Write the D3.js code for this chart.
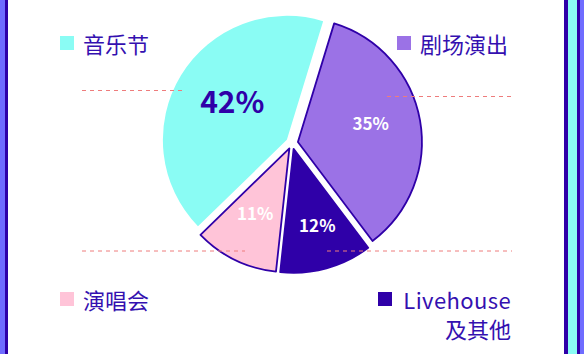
<!DOCTYPE html>
<html><head><meta charset="utf-8">
<script src="https://cdn.jsdelivr.net/npm/d3@7"></script>
<style>html,body{margin:0;padding:0;background:#fff;}svg{display:block;}</style>
</head><body>
<svg id="c" width="584" height="354"></svg>
<script>
const categories = ["剧场演出", "Livehouse及其他", "演唱会", "音乐节"];
const values = [35, 12, 11, 42];
const labels = ["35%", "12%", "11%", "42%"];
const colors = ["#9b72e6", "#2f00a8", "#ffc4d8", "#8afcf4"];
const legendOrder = ["音乐节", "剧场演出", "演唱会", "Livehouse及其他"];

const W = 584, H = 354;
const svg = d3.select("#c");
const ink = "#3410b0", dark = "#2f00a8";
const font = "'Noto Sans CJK SC', 'Noto Sans', sans-serif";

// borders
svg.append("rect").attr("x",0).attr("y",0).attr("width",5).attr("height",H).attr("fill","#6f6cff");
svg.append("rect").attr("x",5).attr("y",0).attr("width",3).attr("height",H).attr("fill",dark);
svg.append("rect").attr("x",564).attr("y",0).attr("width",4).attr("height",H).attr("fill",dark);
svg.append("rect").attr("x",568).attr("y",0).attr("width",9).attr("height",H).attr("fill","#8afcf4");
svg.append("rect").attr("x",577).attr("y",0).attr("width",3).attr("height",H).attr("fill",dark);
svg.append("rect").attr("x",580).attr("y",0).attr("width",4).attr("height",H).attr("fill","#6f6cff");

const cx = 292, cy = 143, R = 124, off = 6;
const start = 17 * Math.PI / 180;
const pie = d3.pie().sort(null).value(d => d).startAngle(start).endAngle(start + 2*Math.PI);
const arcs = pie(values);
const arc = d3.arc().innerRadius(0).outerRadius(R);
const labelArc = d3.arc().innerRadius(78).outerRadius(78);
const labelNudge = [[-4,-6],[3,1],[0,-6],[12,1]];

const g = svg.append("g").attr("transform", `translate(${cx},${cy})`);
const sl = g.selectAll("g.s").data(arcs).join("g").attr("class","s")
  .attr("transform", d => {
    const a = (d.startAngle + d.endAngle) / 2;
    return `translate(${Math.sin(a)*off},${-Math.cos(a)*off})`;
  });
sl.append("path").attr("d", arc)
  .attr("fill", (d,i) => colors[i])
  .attr("stroke", (d,i) => i === 3 ? "none" : dark)
  .attr("stroke-width", 1.8)
  .attr("stroke-linejoin","round");
sl.append("text")
  .attr("transform", (d,i) => {
    const c = labelArc.centroid(d);
    return `translate(${c[0]+labelNudge[i][0]},${c[1]+labelNudge[i][1]})`;
  })
  .attr("text-anchor","middle").attr("dominant-baseline","central")
  .attr("font-family", font).attr("font-weight","bold")
  .attr("font-size", (d,i) => i === 3 ? 30 : 17)
  .attr("fill", (d,i) => i === 3 ? dark : "#fff")
  .text((d,i) => labels[i]);

// dashed guide lines
const dashes = [[82,184,90.5],[387,512,96.5],[82,245,251],[327,512,251]];
svg.selectAll("line.d").data(dashes).join("line").attr("class","d")
  .attr("x1", d => d[0]).attr("x2", d => d[1]).attr("y1", d => d[2]).attr("y2", d => d[2])
  .attr("stroke","#ee7c7c").attr("stroke-width",1).attr("stroke-dasharray","4,4");

// legend
const legPos = [[60,43],[397,43],[60,299],[378,299]];
legendOrder.forEach((name, k) => {
  const i = categories.indexOf(name);
  const [x,y] = legPos[k];
  svg.append("rect").attr("x",x).attr("y",y-7).attr("width",14).attr("height",14).attr("fill",colors[i]);
  if (name === "Livehouse及其他") {
    const t = svg.append("text").attr("font-family",font).attr("font-size",22).attr("fill",ink).attr("text-anchor","end");
    t.append("tspan").attr("x",511).attr("y",y).attr("dominant-baseline","central").attr("letter-spacing","0.4").text("Livehouse");
    t.append("tspan").attr("x",511).attr("y",y+29).attr("dominant-baseline","central").text("及其他");
  } else {
    svg.append("text").attr("x",x+23).attr("y",y).attr("dominant-baseline","central")
      .attr("font-family",font).attr("font-size",22).attr("fill",ink).text(name);
  }
});
</script>
</body></html>
